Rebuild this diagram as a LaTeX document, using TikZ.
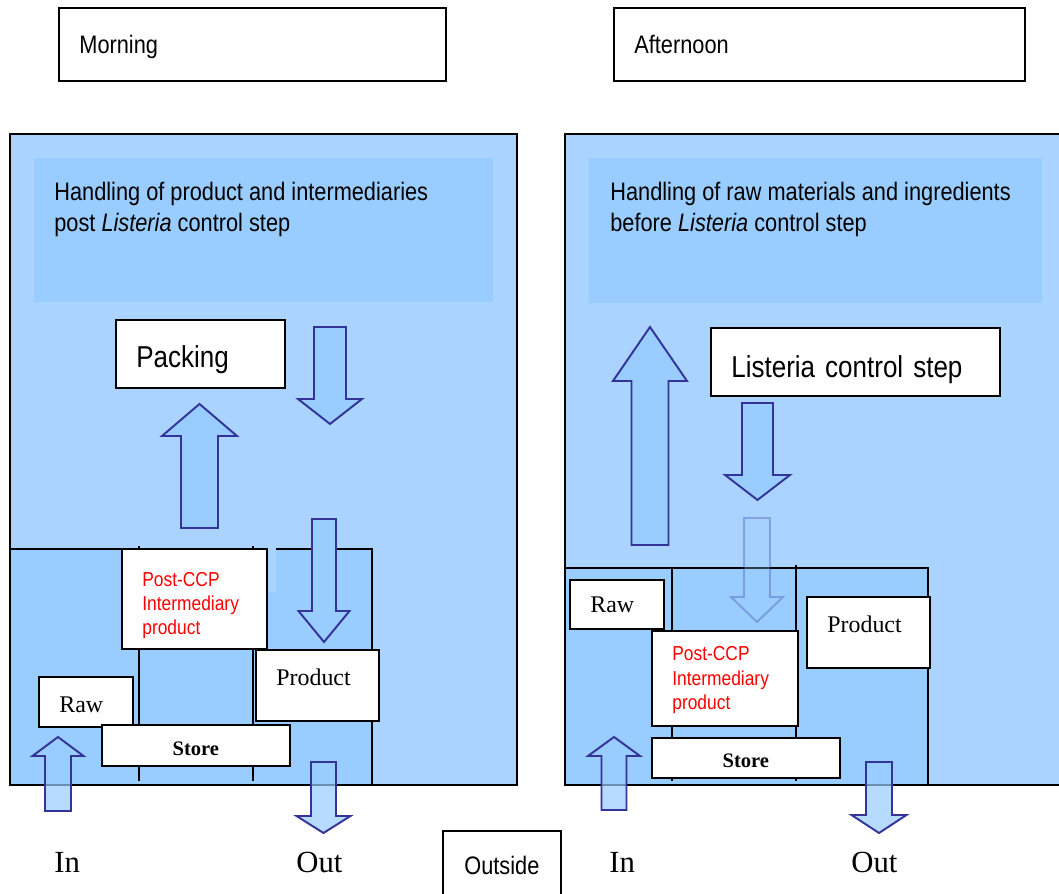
\documentclass[tikz,border=0pt]{standalone}
\usepackage{fontspec}
\newfontfamily\narrowsans{Liberation Sans}[FakeStretch=0.86]
\newfontfamily\tmsfont{Liberation Serif}
\newcommand\bigsans{\narrowsans\fontsize{17.2}{20}\selectfont}
\newcommand\midsans{\narrowsans\fontsize{14.4}{17.6}\selectfont}
\newcommand\smallsans{\narrowsans\fontsize{11.5}{13.7}\selectfont}
\newcommand\tmsmid{\tmsfont\fontsize{13.6}{16}\selectfont}
\newcommand\tmsbig{\tmsfont\fontsize{17.5}{20}\selectfont}
\newcommand\tmsstore{\tmsfont\fontsize{11.7}{14}\selectfont\bfseries}

\begin{document}
\begin{tikzpicture}[
    whitebox/.style={shape=rectangle,draw,line width=1pt,fill=white,anchor=north west,inner ysep=0pt,inner xsep=0.41cm,align=left},
    storebox/.style={shape=rectangle,draw,line width=1pt,fill=white,anchor=north west,inner sep=0pt,font=\tmsstore,minimum width=3.76cm,text height=11pt,text depth=0pt},
    ccpbox/.style={whitebox,font=\smallsans,text=red},
    prodbox/.style={whitebox,font=\tmsmid,text width=1.64cm,minimum height=1.42cm,text height=8pt,text depth=8pt},
    rawbox/.style={whitebox,font=\tmsmid,text width=1.06cm},
    flowlabel/.style={anchor=base west,inner sep=0pt,font=\tmsbig},
    panel/.style={draw=black,line width=0.8pt,fill=panelblue},
    zone/.style={draw=black,line width=0.9pt,fill=zoneblue},
    blockarrow/.style={draw=arrowline,line width=1.1pt,fill=zoneblue,line join=miter},
    faintarrow/.style={blockarrow,opacity=0.3},
    bottomarrow/.style={blockarrow,fill opacity=0.7}
]
    \definecolor{panelblue}{RGB}{170,212,255}
    \definecolor{zoneblue}{RGB}{153,204,255}
    \definecolor{arrowline}{RGB}{51,51,153}
    \useasboundingbox (0,0) rectangle (21.18,17.88);

    % time of day
    \node[whitebox,font=\midsans,text width=6.92cm,minimum height=1.46cm,text height=10.5pt,text depth=0pt] (morning) at (1.16,17.74) {Morning};
    \node[whitebox,font=\midsans,text width=7.40cm,minimum height=1.46cm,text height=10.5pt,text depth=0pt] (afternoon) at (12.26,17.74) {Afternoon};

    % the two rooms
    \draw[panel] (0.2,15.2) rectangle (10.34,2.18);
    \fill[zoneblue] (0.68,14.72) rectangle (9.86,11.84);
    \node[anchor=north west,inner sep=0pt,align=left,font=\midsans] (handlingL) at (1.08,14.24) {Handling of product and intermediaries\\post \textit{Listeria} control step};
    \draw[panel] (11.3,15.2) rectangle (21.4,2.18);
    \fill[zoneblue] (11.78,14.72) rectangle (20.84,11.82);
    \node[anchor=north west,inner sep=0pt,align=left,font=\midsans] (handlingR) at (12.2,14.24) {Handling of raw materials and ingredients\\before \textit{Listeria} control step};

    % flow arrows in the rooms
    \foreach \x/\yb/\yh/\yt/\s/\h in {3.99/7.32/9.16/9.8/0.37/0.75, 6.6/11.34/9.9/9.4/0.32/0.64, 13.0/6.98/10.26/11.34/0.37/0.74, 15.15/9.82/8.38/7.88/0.31/0.65}
        \draw[blockarrow] (\x-\s,\yb) -- (\x-\s,\yh) -- (\x-\h,\yh) -- (\x,\yt) -- (\x+\h,\yh) -- (\x+\s,\yh) -- (\x+\s,\yb) -- cycle;

    % stores
    \draw[zone] (0.2,6.9) rectangle (7.44,2.18);
    \draw[line width=1.6pt] (0.2,2.18) -- (7.44,2.18);
    \fill[panelblue] (2.62,7.0) rectangle (5.52,6.04);
    \draw[line width=0.9pt] (2.78,6.96) -- (2.78,2.26);
    \draw[line width=0.9pt] (5.06,6.96) -- (5.06,2.26);
    \draw[zone] (11.3,6.52) rectangle (18.56,2.18);
    \draw[line width=1.6pt] (11.3,2.18) -- (18.56,2.18);
    \draw[line width=0.9pt] (13.44,6.52) -- (13.44,2.26);
    \draw[line width=0.9pt] (15.92,6.58) -- (15.92,2.26);

    \draw[blockarrow] (6.48-0.24,7.5) -- (6.48-0.24,5.66) -- (6.48-0.51,5.66) -- (6.48,5.04) -- (6.48+0.51,5.66) -- (6.48+0.24,5.66) -- (6.48+0.24,7.5) -- cycle;
    \draw[faintarrow] (15.14-0.26,7.52) -- (15.14-0.26,5.94) -- (15.14-0.52,5.94) -- (15.14,5.44) -- (15.14+0.52,5.94) -- (15.14+0.26,5.94) -- (15.14+0.26,7.52) -- cycle;

    % steps
    \node[whitebox,font=\bigsans,text width=2.56cm,minimum height=1.36cm,text height=16pt,text depth=0pt] (packing) at (2.3,11.5) {Packing};
    \node[whitebox,font=\bigsans,text width=4.96cm,minimum height=1.36cm,text height=18pt,text depth=0pt] (listeria) at (14.2,11.34) {Listeria control step};

    % morning store
    \node[ccpbox,text width=2.08cm,minimum height=2.0cm,text height=16pt] (ccpL) at (2.42,6.92) {Post-CCP\\Intermediary\\product};
    \node[prodbox] (productL) at (5.1,4.9) {Product};
    \node[rawbox,minimum height=1.0cm,text height=12pt,text depth=0pt] (rawL) at (0.76,4.36) {Raw};
    \node[storebox,minimum height=0.82cm] (storeL) at (2.02,3.4) {Store};

    % afternoon store
    \node[rawbox,minimum height=0.98cm] (rawR) at (11.38,6.3) {Raw};
    \node[ccpbox,text width=2.10cm,minimum height=1.9cm,text height=10pt] (ccpR) at (13.02,5.28) {Post-CCP\\Intermediary\\product};
    \node[prodbox] (productR) at (16.12,5.96) {Product};
    \node[storebox,minimum height=0.8cm] (storeR) at (13.02,3.14) {Store};

    % in and out
    \foreach \x/\yb/\yh/\yt/\s/\h in {1.16/1.66/2.76/3.14/0.26/0.51, 6.47/2.64/1.56/1.22/0.25/0.54, 12.28/1.68/2.76/3.14/0.25/0.52, 17.58/2.64/1.58/1.22/0.26/0.55}
        \draw[bottomarrow] (\x-\s,\yb) -- (\x-\s,\yh) -- (\x-\h,\yh) -- (\x,\yt) -- (\x+\h,\yh) -- (\x+\s,\yh) -- (\x+\s,\yb) -- cycle;
    \node[flowlabel] (inL) at (1.08,0.42) {In};
    \node[flowlabel] (outL) at (5.92,0.42) {Out};
    \node[flowlabel] (inR) at (12.18,0.42) {In};
    \node[flowlabel] (outR) at (17.02,0.42) {Out};
    \node[shape=rectangle,draw,line width=1pt,fill=white,anchor=north west,inner sep=0pt,font=\midsans,minimum width=2.36cm,minimum height=1.4cm] (outside) at (8.84,1.28) {Outside};
\end{tikzpicture}
\end{document}
